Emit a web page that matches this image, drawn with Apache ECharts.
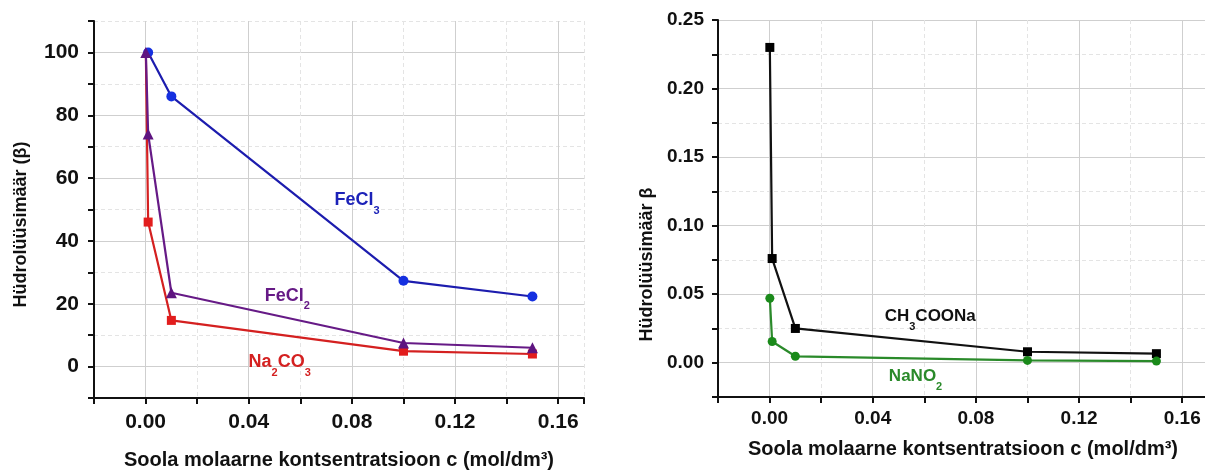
<!DOCTYPE html>
<html>
<head>
<meta charset="utf-8">
<script src="https://cdn.jsdelivr.net/npm/echarts@6/dist/echarts.min.js"></script>
<style>
  html, body { margin: 0; padding: 0; background: #fff; }
  #chart { width: 1205px; height: 470px; }
</style>
</head>
<body>
<div id="chart"></div>
<script>
// Salt concentration c (mol/dm3)
const conc = [0.0001, 0.001, 0.01, 0.1, 0.15];
const concFeCl3 = [0.001, 0.01, 0.1, 0.15];

// Hydrolysis degree, left panel (%)
const feCl3 = [100, 86, 27.3, 22.3];
const feCl2 = [100, 74, 23.5, 7.5, 6];
const na2co3 = [100, 46, 14.7, 4.9, 4];

// Hydrolysis degree, right panel
const ch3coona = [0.23, 0.076, 0.025, 0.008, 0.0066];
const nano2 = [0.047, 0.0155, 0.0047, 0.0017, 0.0012];

// Tick labels
const xTickLabels = ['0.00', '0.04', '0.08', '0.12', '0.16'];
const yLeftTickLabels = ['0', '20', '40', '60', '80', '100'];
const yRightTickLabels = ['0.00', '0.05', '0.10', '0.15', '0.20', '0.25'];

const FONT = 'Arial, "Liberation Sans", sans-serif';
const MAJOR = '#cfcfcf';
const MINOR = '#e4e4e4';
const CLEAR = 'rgba(0,0,0,0)';

function pairs(xs, ys) { return xs.map((x, i) => [x, ys[i]]); }

function labelFrom(list, step, decimals) {
  return function (v) {
    const k = v / step;
    if (Math.abs(k - Math.round(k)) > 1e-6) return '';
    const s = decimals ? v.toFixed(decimals) : String(Math.round(v));
    return list.indexOf(s) >= 0 ? s : '';
  };
}

// Visible axis: solid major grid lines on every second tick
function mainAxis(opts) {
  return Object.assign({
    type: 'value',
    axisLine: { show: true, onZero: false, lineStyle: { color: '#111', width: 2 } },
    axisTick: { show: true, inside: false, length: 6, lineStyle: { color: '#111', width: 2 } },
    splitLine: { show: true, lineStyle: { color: [CLEAR, MAJOR], width: 1 } },
    nameLocation: 'middle'
  }, opts);
}

// Companion axis on the same scale: dashed minor grid lines in between
function minorAxis(opts) {
  return Object.assign({
    type: 'value',
    axisLine: { show: false },
    axisTick: { show: false },
    axisLabel: { show: false },
    splitLine: { show: true, lineStyle: { color: [MINOR, CLEAR], width: 1, type: [4, 3] } }
  }, opts);
}

function tickText(size, margin, formatter) {
  return { fontFamily: FONT, fontWeight: 'bold', color: '#111', fontSize: size, margin: margin, formatter: formatter };
}

function nameText(size, padding) {
  return { fontFamily: FONT, fontWeight: 'bold', color: '#111', fontSize: size, padding: padding || 0 };
}

// Chemical formula label: parts alternate between normal text and subscripts
function formulaLabel(parts, color, size) {
  let fmt = '';
  parts.forEach((p, i) => { fmt += '{' + (i % 2 ? 's' : 'm') + '|' + p + '}'; });
  return {
    show: true,
    position: 'inside',
    formatter: fmt,
    rich: {
      m: { fontFamily: FONT, fontWeight: 'bold', color: color, fontSize: size, lineHeight: 32 },
      s: { fontFamily: FONT, fontWeight: 'bold', color: color, fontSize: 11, lineHeight: 13, verticalAlign: 'bottom' }
    }
  };
}

function tag(coord, label) {
  return {
    symbol: 'rect', symbolSize: 1, silent: true, animation: false,
    itemStyle: { color: CLEAR },
    label: label,
    data: [{ coord: coord }]
  };
}

function lineSeries(name, xi, yi, points, color, lineColor, symbol, size, mark) {
  return {
    name: name, type: 'line', xAxisIndex: xi, yAxisIndex: yi,
    data: points,
    symbol: symbol, symbolSize: size, showAllSymbol: true,
    lineStyle: { color: lineColor, width: 2.2 },
    itemStyle: { color: color, opacity: 1 },
    animation: false,
    markPoint: mark
  };
}

// Na2CO3 starts at 100 under the FeCl2 marker: its first point carries no symbol
const na2co3Points = pairs(conc, na2co3).map((p, i) => (i === 0 ? { value: p, symbol: 'none' } : p));

const chart = echarts.init(document.getElementById('chart'), null, { renderer: 'canvas' });

chart.setOption({
  backgroundColor: '#fff',
  grid: [
    { left: 94, top: 21, width: 490, height: 377, containLabel: false, outerBoundsMode: 'none' },
    { left: 718, top: 20, width: 490, height: 377, containLabel: false, outerBoundsMode: 'none' }
  ],
  xAxis: [
    mainAxis({
      gridIndex: 0, min: -0.02, max: 0.17, interval: 0.02,
      name: 'Soola molaarne kontsentratsioon c (mol/dm³)', nameGap: 52,
      nameTextStyle: nameText(20),
      axisLabel: tickText(21, 14, labelFrom(xTickLabels, 0.04, 2))
    }),
    mainAxis({
      gridIndex: 1, min: -0.02, max: 0.17, interval: 0.02,
      name: 'Soola molaarne kontsentratsioon c (mol/dm³)', nameGap: 42,
      nameTextStyle: nameText(20),
      axisLabel: tickText(19, 12, labelFrom(xTickLabels, 0.04, 2))
    }),
    minorAxis({ gridIndex: 0, min: -0.02, max: 0.17, interval: 0.02 }),
    minorAxis({ gridIndex: 1, min: -0.02, max: 0.17, interval: 0.02 })
  ],
  yAxis: [
    mainAxis({
      gridIndex: 0, min: -10, max: 110, interval: 10,
      name: 'Hüdrolüüsimäär (β)', nameGap: 64,
      nameTextStyle: nameText(18, [0, 30, 0, 0]),
      axisLabel: tickText(21, 15, labelFrom(yLeftTickLabels, 20, 0))
    }),
    mainAxis({
      gridIndex: 1, min: -0.025, max: 0.25, interval: 0.025,
      name: 'Hüdrolüüsimäär β', nameGap: 62,
      nameTextStyle: nameText(18, [0, 112, 0, 0]),
      axisLabel: tickText(19, 14, labelFrom(yRightTickLabels, 0.05, 2))
    }),
    minorAxis({ gridIndex: 0, min: -10, max: 110, interval: 10 }),
    minorAxis({ gridIndex: 1, min: -0.025, max: 0.25, interval: 0.025 })
  ],
  series: [
    lineSeries('Na2CO3', 0, 0, na2co3Points, '#e21d1d', '#d42020', 'rect', 9,
      tag([0.052, 1.4], formulaLabel(['Na', '2', 'CO', '3'], '#d42020', 18))),
    lineSeries('FeCl3', 0, 0, pairs(concFeCl3, feCl3), '#1530e0', '#1c1cae', 'circle', 10,
      tag([0.082, 53], formulaLabel(['FeCl', '3'], '#1c22b8', 18))),
    lineSeries('FeCl2', 0, 0, pairs(conc, feCl2), '#5e1480', '#661a86', 'triangle', 11,
      tag([0.055, 22.5], formulaLabel(['FeCl', '2'], '#661a86', 18))),
    lineSeries('CH3COONa', 1, 1, pairs(conc, ch3coona), '#000', '#111', 'rect', 9,
      tag([0.0623, 0.0337], formulaLabel(['CH', '3', 'COONa'], '#111', 17))),
    lineSeries('NaNO2', 1, 1, pairs(conc, nano2), '#1a8a1a', '#2a8a2a', 'circle', 9,
      tag([0.0566, -0.0099], formulaLabel(['NaNO', '2'], '#2a8a2a', 17)))
  ]
});
</script>
</body>
</html>
